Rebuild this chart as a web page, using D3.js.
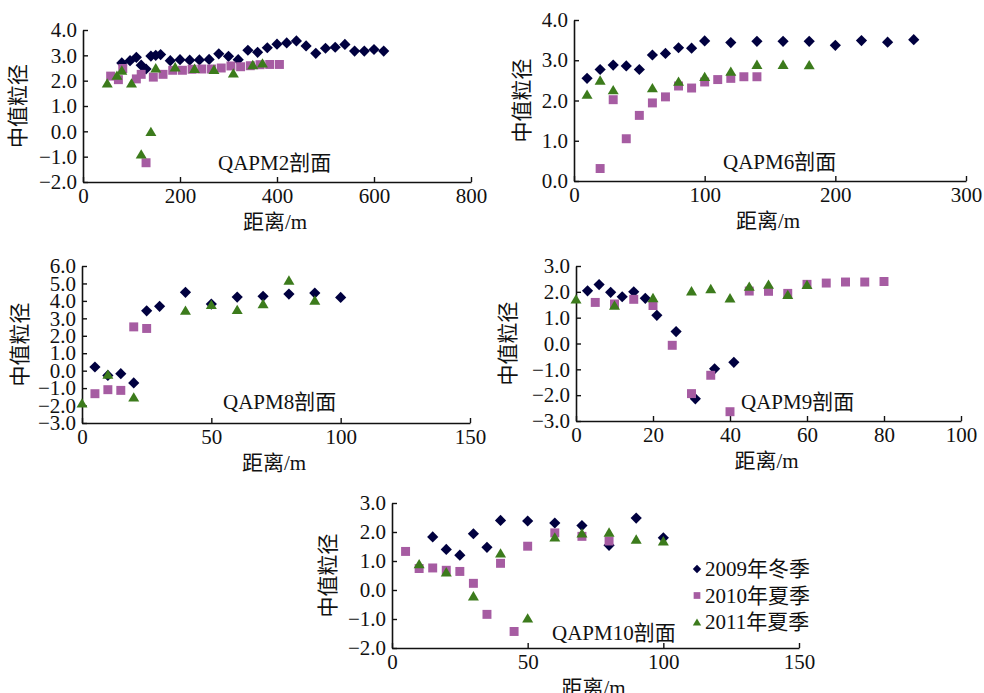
<!DOCTYPE html>
<html>
<head>
<meta charset="utf-8">
<script src="https://cdn.jsdelivr.net/npm/d3@7"></script>
<style>
  body { margin: 0; background: #fff; }
  text { font-family: "Liberation Serif", "Noto Sans CJK SC", serif; fill: #111; }
</style>
</head>
<body>
<script>
// 中值粒径 vs 距离, five profiles, three survey seasons

var seriesNames = ["2009年冬季", "2010年夏季", "2011年夏季"];
var seriesColors = ["#00003f", "#a65ca2", "#3c7b1c"];

// QAPM2
var qapm2_2009 = [[80,2.7],[97,2.79],[110,2.92],[120,2.61],[130,2.46],[140,2.97],[150,3.0],[160,3.03],
  [180,2.79],[200,2.83],[220,2.81],[240,2.82],[260,2.84],[280,3.06],[300,2.96],[320,2.83],[340,3.2],
  [360,3.12],[380,3.3],[400,3.44],[420,3.49],[440,3.57],[460,3.37],[480,3.08],[500,3.28],[520,3.32],
  [540,3.43],[560,3.17],[580,3.17],[600,3.23],[620,3.17]];
var qapm2_2010 = [[57,2.18],[73,2.04],[82,2.48],[110,2.07],[120,2.25],[130,-1.24],[145,2.14],[165,2.25],
  [185,2.41],[205,2.41],[225,2.45],[245,2.46],[265,2.46],[285,2.5],[305,2.58],[325,2.55],[345,2.59],
  [365,2.63],[385,2.64],[405,2.64]];
var qapm2_2011 = [[50,1.91],[70,2.22],[80,2.42],[100,1.91],[120,-0.89],[140,0.0],[150,2.51],[190,2.55],
  [230,2.49],[270,2.45],[310,2.31],[350,2.64],[370,2.7]];

// QAPM6
var qapm6_2009 = [[10,2.55],[20,2.77],[30,2.88],[40,2.86],[50,2.77],[60,3.13],[70,3.17],[80,3.31],
  [90,3.3],[100,3.48],[120,3.44],[140,3.47],[160,3.47],[180,3.47],[200,3.37],[220,3.49],[240,3.45],[260,3.51]];
var qapm6_2010 = [[20,0.31],[30,2.02],[40,1.05],[50,1.63],[60,1.94],[70,2.09],[80,2.36],[90,2.31],
  [100,2.46],[110,2.52],[120,2.55],[130,2.59],[140,2.59]];
var qapm6_2011 = [[10,2.16],[20,2.51],[30,2.27],[60,2.32],[80,2.48],[100,2.6],[120,2.73],[140,2.9],
  [160,2.9],[180,2.89]];

// QAPM8
var qapm8_2009 = [[5,0.21],[10,-0.27],[15,-0.17],[20,-0.7],[25,3.43],[30,3.69],[40,4.49],[50,3.82],
  [60,4.22],[70,4.26],[80,4.39],[90,4.45],[100,4.2]];
var qapm8_2010 = [[5,-1.32],[10,-1.09],[15,-1.13],[20,2.51],[25,2.42]];
var qapm8_2011 = [[0,-1.85],[10,-0.2],[20,-1.5],[40,3.47],[50,3.8],[60,3.51],[70,3.85],[80,5.2],[90,4.05]];

// QAPM9
var qapm9_2009 = [[3,2.04],[6,2.28],[9,1.98],[12,1.81],[15,2.0],[18,1.75],[21,1.09],[26,0.46],
  [31,-2.14],[36,-0.98],[41,-0.73]];
var qapm9_2010 = [[5,1.59],[10,1.53],[15,1.71],[20,1.47],[25,-0.07],[30,-1.94],[35,-1.23],[40,-2.64],
  [45,2.03],[50,2.02],[55,1.94],[60,2.29],[65,2.34],[70,2.38],[75,2.38],[80,2.4]];
var qapm9_2011 = [[0,1.73],[10,1.49],[20,1.78],[30,2.04],[35,2.13],[40,1.77],[45,2.22],[50,2.3],
  [55,1.9],[60,2.29]];

// QAPM10
var qapm10_2009 = [[15,1.83],[20,1.4],[25,1.2],[30,1.94],[35,1.47],[40,2.4],[50,2.38],[60,2.31],
  [70,2.22],[80,1.54],[90,2.48],[100,1.8]];
var qapm10_2010 = [[5,1.33],[10,0.74],[15,0.76],[20,0.68],[25,0.64],[30,0.23],[35,-0.84],[40,0.92],
  [45,-1.43],[50,1.51],[60,1.97],[70,1.85],[80,1.69]];
var qapm10_2011 = [[10,0.91],[20,0.63],[30,-0.2],[40,1.28],[50,-0.96],[60,1.83],[70,1.97],[80,2.0],
  [90,1.76],[100,1.7]];

var panelTitles = ["QAPM2剖面", "QAPM6剖面", "QAPM8剖面", "QAPM9剖面", "QAPM10剖面"];
var xDomains = [[0,800],[0,300],[0,150],[0,100],[0,150]];
var yDomains = [[-2,4],[0,4],[-3,6],[-3,3],[-2,3]];
var xTicks = [[0,200,400,600,800],[0,100,200,300],[0,50,100,150],[0,20,40,60,80,100],[0,50,100,150]];
var panelData = [
  [qapm2_2009, qapm2_2010, qapm2_2011],
  [qapm6_2009, qapm6_2010, qapm6_2011],
  [qapm8_2009, qapm8_2010, qapm8_2011],
  [qapm9_2009, qapm9_2010, qapm9_2011],
  [qapm10_2009, qapm10_2010, qapm10_2011]
];

// pixel boxes for each plot area [left, right, top, bottom]
var boxes = [
  [83, 471, 30, 182],
  [574, 966, 20, 181],
  [82, 470, 266, 423],
  [576, 961, 266, 421],
  [392, 799, 503, 648]
];
var titlePos = [[218,170],[723,169],[223,409],[741,409],[552,640]];
var ylabX = [18, 522, 20, 508, 328];

var W = 984, H = 693, fs = 21;

function markerPath(k, s) {
  if (k === 0) return "M0," + (-s) + "L" + s + ",0L0," + s + "L" + (-s) + ",0Z";
  if (k === 1) { var h = s * 0.8; return "M" + (-h) + "," + (-h) + "H" + h + "V" + h + "H" + (-h) + "Z"; }
  return "M0," + (-s * 0.85) + "L" + s + "," + (s * 0.85) + "L" + (-s) + "," + (s * 0.85) + "Z";
}

var svg = d3.select("body").append("svg")
  .attr("width", W).attr("height", H);

panelData.forEach(function(series, i) {
  var b = boxes[i];
  var x = d3.scaleLinear().domain(xDomains[i]).range([b[0], b[1]]);
  var y = d3.scaleLinear().domain(yDomains[i]).range([b[3], b[2]]);
  var g = svg.append("g");

  var yt = d3.range(yDomains[i][0], yDomains[i][1] + 0.5, 1);

  g.append("g")
    .attr("transform", "translate(" + b[0] + ",0)")
    .call(d3.axisLeft(y).tickValues(yt).tickFormat(d3.format(".1f")).tickSizeInner(-5).tickSizeOuter(0).tickPadding(6))
    .call(function(a) {
      a.select(".domain").attr("stroke", "#111").attr("stroke-width", 1.6);
      a.selectAll(".tick line").attr("stroke", "#111").attr("stroke-width", 1.4);
      a.selectAll("text").style("font-size", fs + "px").attr("fill", "#111");
    });

  g.append("g")
    .attr("transform", "translate(0," + b[3] + ")")
    .call(d3.axisBottom(x).tickValues(xTicks[i]).tickFormat(d3.format("d")).tickSizeInner(-5).tickSizeOuter(0).tickPadding(6))
    .call(function(a) {
      a.select(".domain").attr("stroke", "#111").attr("stroke-width", 1.6);
      a.selectAll(".tick line").attr("stroke", "#111").attr("stroke-width", 1.4);
      a.selectAll("text").style("font-size", fs + "px").attr("fill", "#111");
    });

  series.forEach(function(pts, k) {
    g.append("g").selectAll("path")
      .data(pts)
      .enter()
      .append("path")
      .attr("d", markerPath(k, k === 0 ? 5.6 : (k === 1 ? 5.6 : 5.5)))
      .attr("transform", function(d) { return "translate(" + x(d[0]) + "," + y(d[1]) + ")"; })
      .attr("fill", seriesColors[k]);
  });

  g.append("text")
    .attr("x", titlePos[i][0]).attr("y", titlePos[i][1])
    .style("font-size", fs + "px")
    .text(panelTitles[i]);

  g.append("text")
    .attr("x", (b[0] + b[1]) / 2 - 2).attr("y", b[3] + 47)
    .attr("text-anchor", "middle")
    .style("font-size", fs + "px")
    .text("距离/m");

  g.append("text")
    .attr("transform", "translate(" + (ylabX[i] + 7) + "," + ((b[2] + b[3]) / 2) + ") rotate(-90)")
    .attr("text-anchor", "middle")
    .style("font-size", fs + "px")
    .text("中值粒径");
});

// legend
var legend = svg.append("g").attr("transform", "translate(697,569)");
seriesNames.forEach(function(name, k) {
  var row = legend.append("g").attr("transform", "translate(0," + (k * 26.5) + ")");
  row.append("path").attr("d", markerPath(k, 4.2)).attr("fill", seriesColors[k]);
  row.append("text").attr("x", 8).attr("y", 7).style("font-size", fs + "px").text(name);
});
</script>
</body>
</html>
